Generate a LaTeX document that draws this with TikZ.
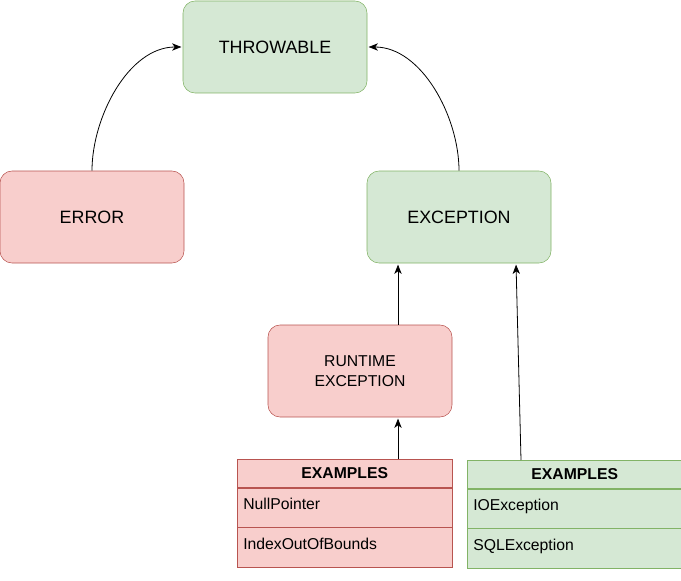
\documentclass[tikz,border=0pt]{standalone}
\usepackage{fontspec}
\setmainfont{Liberation Sans}
\usetikzlibrary{arrows.meta,calc}
\definecolor{fillgreen}{HTML}{D5E8D4}
\definecolor{drawgreen}{HTML}{82B366}
\definecolor{fillred}{HTML}{F8CECC}
\definecolor{drawred}{HTML}{B85450}
\tikzset{
  box/.style={rounded corners=9pt,minimum width=138pt,minimum height=69pt,align=center,inner sep=0pt,
    font=\fontsize{13.4}{16}\selectfont},
  greenbox/.style={box,draw=drawgreen,fill=fillgreen},
  redbox/.style={box,draw=drawred,fill=fillred},
  cell/.style={draw,anchor=north west,minimum width=161.25pt,inner xsep=4.5pt,inner ysep=0pt,
    text width=152.25pt,font=\fontsize{11.8}{14}\selectfont},
  headcell/.style={cell,align=center,minimum height=21pt,font=\fontsize{11.8}{14}\selectfont\bfseries},
  rowcell/.style={cell,align=left,minimum height=29.5pt,text height=8.5pt,text depth=6pt},
  arr/.style={-{Stealth[length=7pt,width=5.5pt,inset=2pt]},line width=0.6pt,shorten >=1pt}
}

\begin{document}
\begin{tikzpicture}[x=0.75pt,y=-0.75pt]
  \useasboundingbox (0,0) rectangle (681,581);
  \node[greenbox] (throwable) at (275,47) {THROWABLE};
  \node[redbox] (error) at (92,217) {ERROR};
  \node[greenbox] (exception) at (459,217) {EXCEPTION};
  \node[redbox,font=\fontsize{11.8}{15}\selectfont] (runtime) at (360,371) {RUNTIME\\EXCEPTION};
  % examples, runtime side
  \node[headcell,draw=drawred,fill=fillred] (exlhead) at (237,459) {EXAMPLES};
  \node[rowcell,draw=drawred,fill=fillred] (exlnull) at (exlhead.south west) {NullPointer};
  \node[rowcell,draw=drawred,fill=fillred] (exlindex) at (exlnull.south west) {IndexOutOfBounds};
  % examples, checked side
  \node[headcell,draw=drawgreen,fill=fillgreen] (exrhead) at (467,460) {EXAMPLES};
  \node[rowcell,draw=drawgreen,fill=fillgreen] (exrio) at (exrhead.south west) {IOException};
  \node[rowcell,draw=drawgreen,fill=fillgreen] (exrsql) at (exrio.south west) {SQLException};
  % connectors
  \draw[arr] (error.north) to[out=90,in=180,looseness=0.9] (throwable.west);
  \draw[arr] (exception.north) to[out=90,in=0,looseness=0.9] (throwable.east);
  \draw[arr] ($(runtime.north)+(38,0)$) -- ($(exception.south)+(-61,0)$);
  \draw[arr] ($(exlhead.north west)+(161,0)$) -- ($(runtime.south)+(38,0)$);
  \draw[arr] ($(exrhead.north west)+(54,0)$) -- ($(exception.south)+(57,0)$);
\end{tikzpicture}
\end{document}
